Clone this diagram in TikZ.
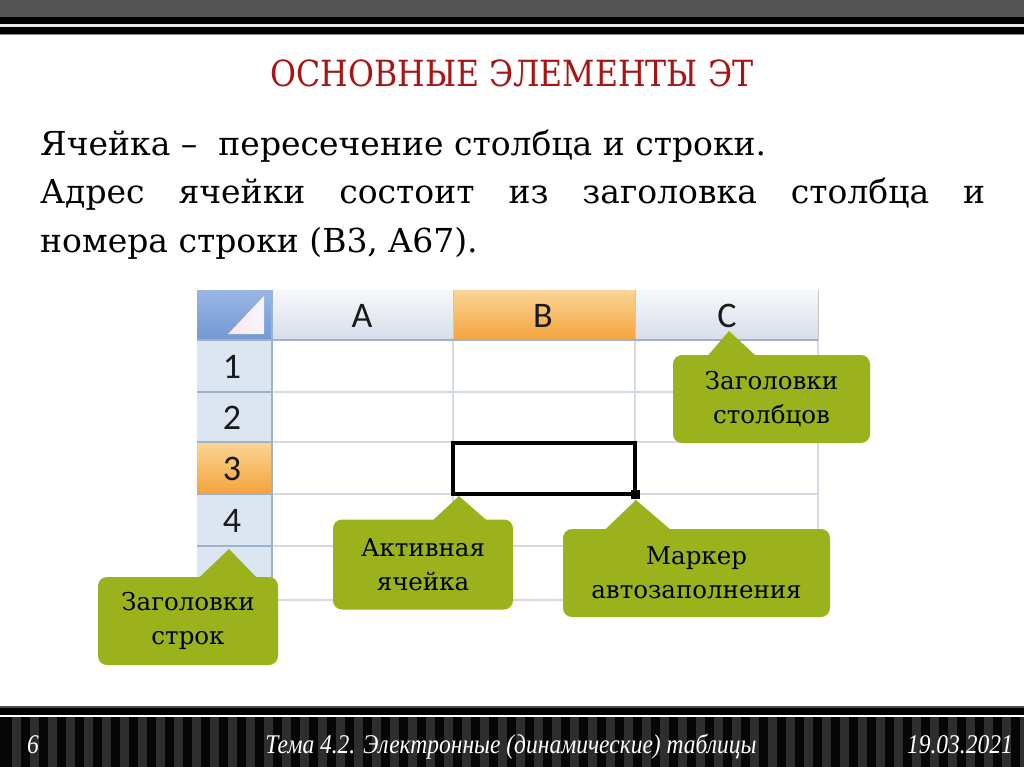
\documentclass[tikz,border=0pt]{standalone}
\usepackage{fontspec}
\setmainfont{DejaVu Serif}
\newfontfamily\calib{Carlito}
\newfontfamily\footf{Liberation Serif}
\usetikzlibrary{calc}
\definecolor{topgray}{HTML}{555555}
\definecolor{titlered}{HTML}{A81414}
\definecolor{olive}{HTML}{9BB21C}
\definecolor{gridc}{HTML}{D5DBE4}
\definecolor{hdrtop}{HTML}{F6F8FB}
\definecolor{hdrbot}{HTML}{D6DEEA}
\definecolor{rowhdr}{HTML}{DCE6F3}
\definecolor{hdrline}{HTML}{9DB3CC}
\definecolor{orgtop}{HTML}{FBD595}
\definecolor{orgbot}{HTML}{F4A33C}
\definecolor{cornertop}{HTML}{9AB6E4}
\definecolor{cornerbot}{HTML}{7398D3}
\definecolor{stripe}{HTML}{2E2E2E}
\definecolor{stripedark}{HTML}{060606}
\definecolor{celltext}{HTML}{1A1A1A}
\tikzset{
  callout/.style={fill=olive, rounded corners=9pt, inner sep=0pt, align=center,
    font=\fontsize{24.5}{34}\selectfont, text=black},
  hdrtext/.style={font=\calib\fontsize{36}{36}\selectfont, text=celltext, inner sep=0pt},
  bodytext/.style={font=\fontsize{33}{35}\selectfont, inner sep=0pt, anchor=base west},
  foottext/.style={font=\footf\itshape\fontsize{23.5}{24}\selectfont, text=white, inner sep=0pt, anchor=base}
}
\begin{document}
\begin{tikzpicture}[x=1pt,y=-1pt]
\useasboundingbox (0,0) rectangle (1024,767);
\fill[white] (0,0) rectangle (1024,767);
% top bars
\fill[topgray] (0,0) rectangle (1024,17);
\fill[black] (0,17) rectangle (1024,24);
\fill[black!8] (0,24) rectangle (1024,27);
\fill[black] (0,27) rectangle (1024,34);
\fill[black!45] (0,34) rectangle (1024,35);
% bottom bars
\fill[black!70] (0,706) rectangle (1024,708);
\fill[black] (0,708) rectangle (1024,715);
\fill[white] (0,715) rectangle (1024,717);
\fill[stripedark] (0,717) rectangle (1024,767);
\foreach \i in {0,...,56} { \fill[stripe] (\i*18+12,717) rectangle +(9,50); }
% title
\node[font=\fontsize{31.6}{32}\selectfont, text=titlered, inner sep=0pt, anchor=base] (title) at (512,87) {\scalebox{1}[1.14]{ОСНОВНЫЕ ЭЛЕМЕНТЫ ЭТ}};
% body text
\node[bodytext] (l1) at (40,156) {Ячейка –\ \ пересечение столбца и строки.};
\node[bodytext] (l2) at (40,204) {\makebox[945pt][s]{Адрес ячейки состоит из заголовка столбца и}};
\node[bodytext] (l3) at (40,252) {номера строки (B3, A67).};
% table backgrounds
\fill[white] (272,340) rectangle (818,600);
\shade[top color=hdrtop, bottom color=hdrbot] (272,290) rectangle (818,340);
\shade[top color=orgtop, bottom color=orgbot] (453,290) rectangle (635,340);
\fill[rowhdr] (197,340) rectangle (272,600);
\shade[top color=orgtop, bottom color=orgbot] (197,442) rectangle (272,494);
\shade[top color=cornertop, bottom color=cornerbot] (197,290) rectangle (272,340);
\shade[left color=red!10!white, right color=blue!4!white] (228,334) -- (264,334) -- (264,296) -- cycle;
% grid lines
\foreach \yy in {392,442,494,546,600} { \draw[gridc, line width=1.5pt] (272,\yy) -- (818,\yy); }
\foreach \xx in {453,635,818} { \draw[gridc, line width=1.5pt] (\xx,340) -- (\xx,600); }
\foreach \xx in {453,635,818} { \draw[black!22, line width=1pt] (\xx,290) -- (\xx,340); }
\foreach \yy in {392,442,494,546} { \draw[hdrline, line width=1.2pt] (197,\yy) -- (272,\yy); }
\draw[hdrline, line width=1.5pt] (197,340) -- (818,340);
\draw[hdrline, line width=1.5pt] (272,290) -- (272,600);
% header labels
\node[hdrtext] (hA) at (362,316) {A};
\node[hdrtext] (hB) at (543,316) {B};
\node[hdrtext] (hC) at (727,316) {C};
\node[hdrtext] (r1) at (232,367) {1};
\node[hdrtext] (r2) at (232,418) {2};
\node[hdrtext] (r3) at (232,469) {3};
\node[hdrtext] (r4) at (232,521) {4};
\node[hdrtext] (r5) at (232,573) {5};
% active cell
\draw[black, line width=4pt] (453,443) rectangle (635,494);
\fill[black] (630.5,490) rectangle (639.5,499);
% callouts
\node[callout, minimum width=197pt, minimum height=88pt] (col) at (771.5,399) {Заголовки\\столбцов};
\node[callout, minimum width=180pt, minimum height=90pt] (act) at (423,564.5) {Активная\\ячейка};
\node[callout, minimum width=267pt, minimum height=88pt] (mark) at (696.5,573) {Маркер\\автозаполнения};
\node[callout, minimum width=180pt, minimum height=88pt] (rowc) at (188,621) {Заголовки\\строк};
\coordinate (coltip) at (729,331);
\coordinate (acttip) at (459,496);
\coordinate (marktip) at (636,500);
\coordinate (rowtip) at (229,549);
\fill[olive] (coltip) -- ($(col.north west)+(34,2)$) -- ($(col.north west)+(84,2)$) -- cycle;
\fill[olive] (acttip) -- ($(act.north west)+(99,2)$) -- ($(act.north west)+(155,2)$) -- cycle;
\fill[olive] (marktip) -- ($(mark.north west)+(41,2)$) -- ($(mark.north west)+(109,2)$) -- cycle;
\fill[olive] (rowtip) -- ($(rowc.north west)+(100,2)$) -- ($(rowc.north west)+(160,2)$) -- cycle;
% footer
\node[foottext] (pg) at (33,753) {\scalebox{1}[1.15]{6}};
\node[foottext] (topic) at (511,753) {\scalebox{1}[1.15]{Тема 4.2. Электронные (динамические) таблицы}};
\node[foottext, anchor=base east] (date) at (1013,753) {\scalebox{1}[1.15]{19.03.2021}};
\end{tikzpicture}
\end{document}
